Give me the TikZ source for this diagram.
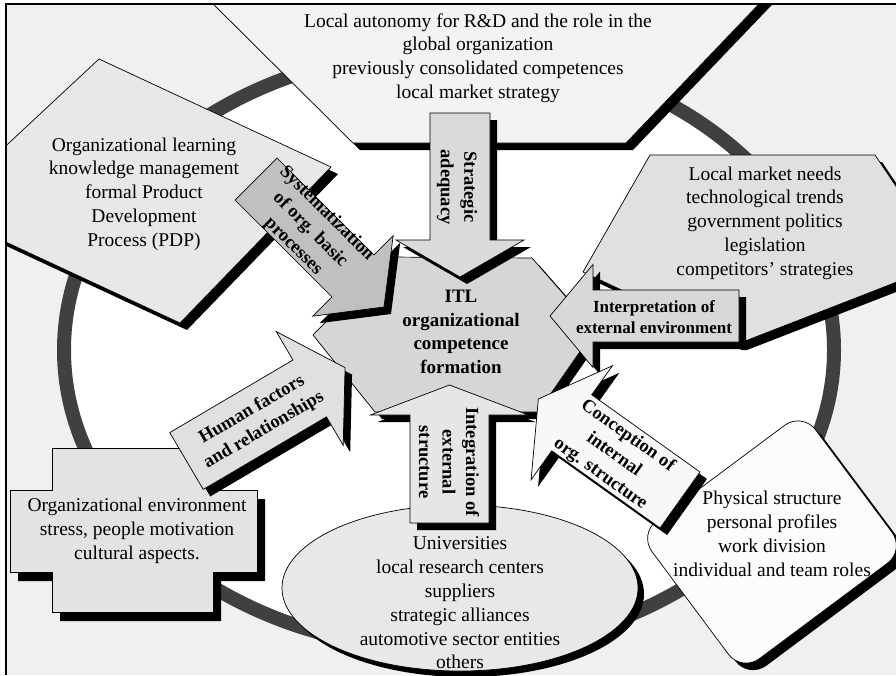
\documentclass[tikz,border=0pt]{standalone}
\usepackage{fontspec}
\setmainfont{Liberation Serif}
\definecolor{bggray}{HTML}{F0F0F0}
\definecolor{ringgray}{HTML}{404040}
\definecolor{topfill}{HTML}{F3F3F3}
\definecolor{leftfill}{HTML}{E8E8E8}
\definecolor{rightfill}{HTML}{E0E0E0}
\definecolor{hexfill}{HTML}{D6D6D6}
\definecolor{crossfill}{HTML}{E3E3E3}
\definecolor{ellfill}{HTML}{E8E8E8}
\definecolor{rndfill}{HTML}{FCFCFC}
\definecolor{arrA}{HTML}{DADADA}
\definecolor{arrB}{HTML}{C0C0C0}
\definecolor{arrC}{HTML}{D8D8D8}
\definecolor{arrD}{HTML}{E0E0E0}
\definecolor{arrE}{HTML}{E6E6E6}
\definecolor{arrF}{HTML}{F8F8F8}
% shadowed polygon: #1 fill, #2 path
\newcommand\shp[2]{%
  \fill[black,shift={(7,7)}] #2;
  \filldraw[fill=#1,outl] #2;}
% block arrow: #1 x, #2 y (tail centre), #3 angle, #4 shaft length, #5 half shaft width,
% #6 half head width, #7 head length, #8 fill
\newcommand\blkarrow[8]{%
  \begin{scope}[shift={(#1+7,#2+7)},rotate=#3]
    \fill[black] (0,-#5) -- (#4,-#5) -- (#4,-#6) -- (#4+#7,0) -- (#4,#6) -- (#4,#5) -- (0,#5) -- cycle;
  \end{scope}
  \begin{scope}[shift={(#1,#2)},rotate=#3]
    \filldraw[fill=#8,outl] (0,-#5) -- (#4,-#5) -- (#4,-#6) -- (#4+#7,0) -- (#4,#6) -- (#4,#5) -- (0,#5) -- cycle;
  \end{scope}}
\begin{document}
\begin{tikzpicture}[x=1pt,y=-1pt,
  outl/.style={draw=black,line width=0.7pt},
  txt/.style={font=\fontsize{19.5}{23.8}\selectfont,align=center,inner sep=0pt},
  btxt/.style={font=\bfseries\fontsize{18.5}{23.5}\selectfont,align=center,inner sep=0pt}]
\useasboundingbox (0,0) rectangle (896,675);
\begin{scope}
\clip (6,4) rectangle (896,675);
\fill[bggray] (0,0) rectangle (896,675);
\fill[white] (449,350) ellipse [x radius=385pt,y radius=300pt];
\draw[ringgray,line width=14pt] (449,350) ellipse [x radius=385pt,y radius=300pt];
% top shape
\shp{topfill}{(189,-20) -- (353,143) -- (626,143) -- (782,-20) -- cycle}
% left shape
\shp{leftfill}{(-20,170) -- (99,59) -- (331,167) -- (180,323) -- (-20,230) -- cycle}
% right shape
\shp{rightfill}{(583,272) -- (650,155) -- (875,155) -- (920,222) -- (920,273) -- (740,343) -- (735,343) -- cycle}
% cross
\fill[black,shift={(8,9)}] (52,448) -- (213,448) -- (213,490) -- (257,490) -- (257,572) -- (213,572) -- (213,612) -- (52,612) -- (52,572) -- (10,572) -- (10,490) -- (52,490) -- cycle;
\filldraw[fill=crossfill,outl] (52,448) -- (213,448) -- (213,490) -- (257,490) -- (257,572) -- (213,572) -- (213,612) -- (52,612) -- (52,572) -- (10,572) -- (10,490) -- (52,490) -- cycle;
% bottom ellipse
\fill[black] (466,594) ellipse [x radius=178pt,y radius=83pt];
\filldraw[fill=ellfill,outl] (460,588) ellipse [x radius=178pt,y radius=83pt];
% rounded rectangle
\begin{scope}[shift={(779,549)},rotate=-53.3]
  \fill[black,rounded corners=22pt] (-86,-102) rectangle (86,102);
\end{scope}
\begin{scope}[shift={(772,542)},rotate=-53.3]
  \filldraw[fill=rndfill,outl,rounded corners=22pt] (-86,-102) rectangle (86,102);
\end{scope}
% hexagon
\shp{hexfill}{(313,335) -- (390,257) -- (532,258) -- (595,330) -- (538,412) -- (375,412) -- cycle}
% arrows
\blkarrow{460}{113}{-90}{127}{30}{64}{37}{arrA}
\blkarrow{256}{179}{-45}{137}{29.7}{57}{44}{arrB}
\blkarrow{739}{316}{180}{146}{26}{51.5}{43}{arrC}
\blkarrow{186.5}{461}{30.5}{143}{33}{66}{41}{arrD}
\blkarrow{449.5}{523}{90}{108}{39.5}{79}{30}{arrE}
\blkarrow{680}{500}{144.5}{133}{34.4}{70}{41}{arrF}
\end{scope}
\draw[line width=1.2pt] (6,675) -- (6,4) -- (896,4);
% texts
\node[txt] (tTop) at (478,58) {Local autonomy for R\&D and the role in the\\global organization\\previously consolidated competences\\local market strategy};
\node[txt] (tLeft) at (144,194) {Organizational learning\\knowledge management\\formal Product\\Development\\Process (PDP)};
\node[txt] (tRight) at (765,223) {Local market needs\\technological trends\\government politics\\legislation\\competitors’ strategies};
\node[txt] (tCross) at (137,531) {Organizational environment\\stress, people motivation\\cultural aspects.};
\node[txt] (tEll) at (460,603) {Universities\\local research centers\\suppliers\\strategic alliances\\automotive sector entities\\others};
\node[txt] (tRnd) at (772,534) {Physical structure\\personal profiles\\work division\\individual and team roles};
\node[btxt,font=\bfseries\fontsize{19}{23.5}\selectfont] (tHex) at (461,332) {ITL\\organizational\\competence\\formation};
\node[btxt,rotate=-90] (tStrat) at (457,187) {Strategic\\adequacy};
\node[btxt,rotate=-45] (tSyst) at (310,230) {Systematization\\of org. basic\\processes};
\node[btxt,font=\bfseries\fontsize{17}{21}\selectfont] (tInterp) at (654,317) {Interpretation of\\external environment};
\node[btxt,rotate=30.5] (tHum) at (258,420) {Human factors\\and relationships};
\node[btxt,rotate=-90] (tInteg) at (449,462) {Integration of\\external\\structure};
\node[btxt,rotate=-35.5] (tConc) at (614,455) {Conception of\\internal\\org. structure};
\end{tikzpicture}
\end{document}
